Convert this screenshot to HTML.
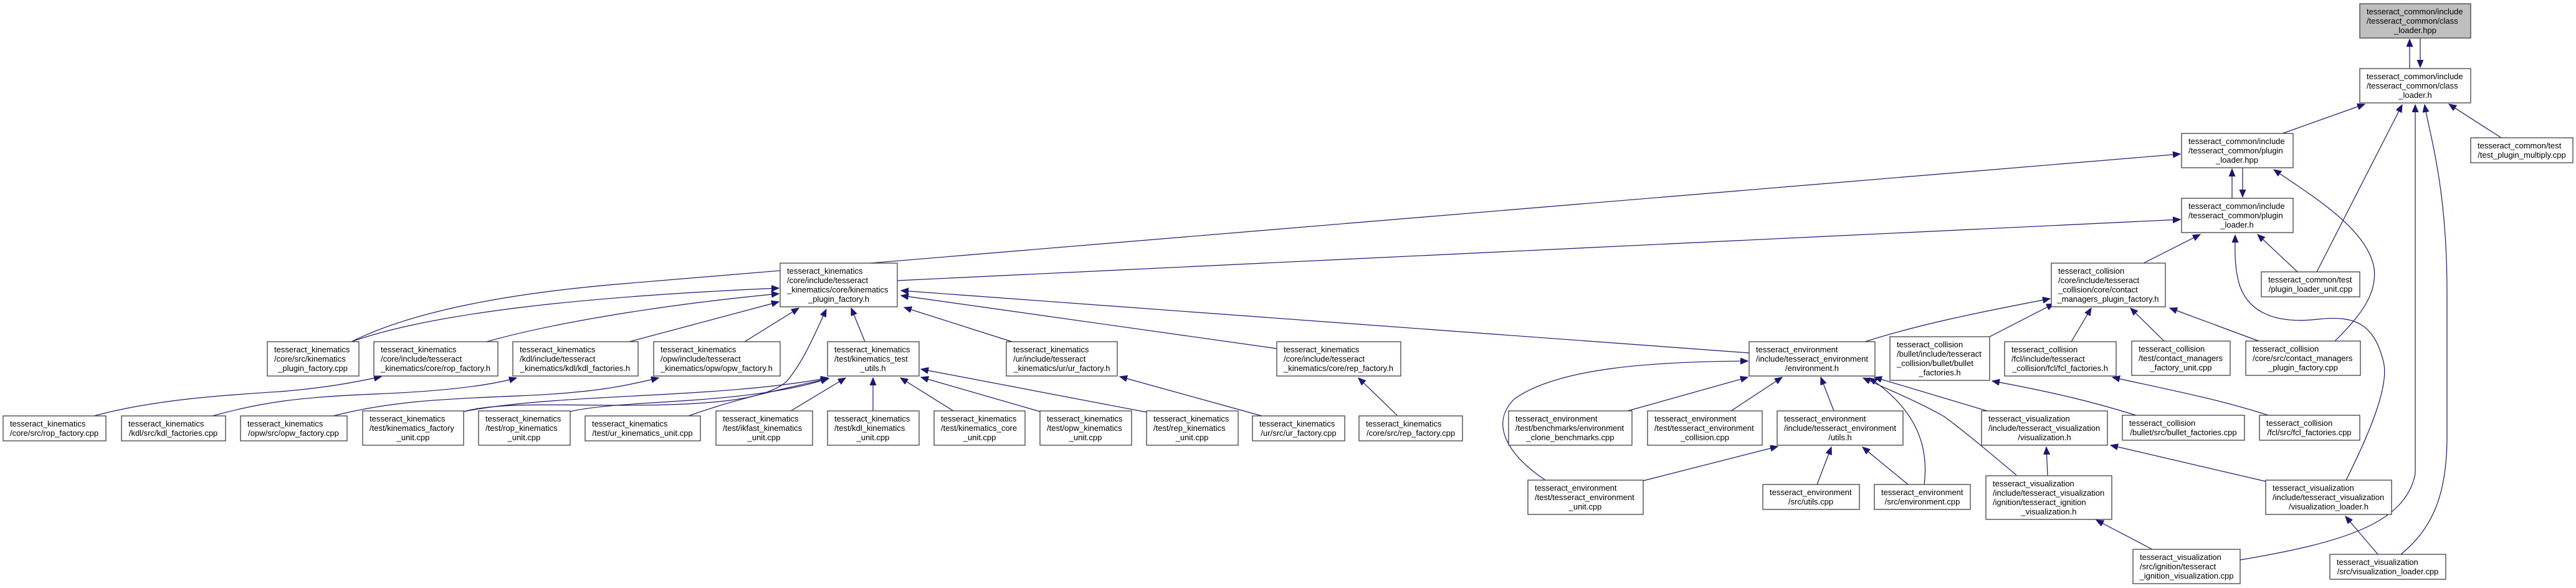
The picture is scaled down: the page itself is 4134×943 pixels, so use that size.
<!DOCTYPE html>
<html><head><meta charset="utf-8"><style>
html,body{margin:0;padding:0;background:#fff;}
svg{display:block;}
text{font-family:"Liberation Sans",Arial,sans-serif;font-size:13px;fill:#000;}
rect{fill:#fff;stroke:#404040;stroke-width:1.3;}
rect.g{fill:#bfbfbf;}
path{fill:none;stroke:#191970;stroke-width:1.2;}
</style></head><body>
<svg width="4134" height="943" viewBox="0 0 4134 943" xmlns="http://www.w3.org/2000/svg">
<defs><marker id="a" markerUnits="userSpaceOnUse" markerWidth="14" markerHeight="12" refX="12" refY="5" orient="auto"><path d="M0,0 L12,5 L0,10 Z" style="fill:#191970;stroke:#191970;stroke-width:1"/></marker></defs>
<g marker-end="url(#a)">
<path d="M3867,110 L3867,63"/>
<path d="M3884,61 L3884,108"/>
<path d="M3663,214 L3795,167"/>
<path d="M3718,436 L3855,168"/>
<path d="M3595,898 C3760,870 3860,840 3876,760 L3876,168"/>
<path d="M3853,889 C3900,850 3927,800 3927,700 L3927,470 C3927,300 3900,220 3891,168"/>
<path d="M4014,221 L3930,167"/>
<path d="M3582,318 L3582,271"/>
<path d="M3599,269 L3599,316"/>
<path d="M564,548 Q700,480 1000,455 L3499,247"/>
<path d="M1440,450 L3499,352"/>
<path d="M3440,422 L3531,376"/>
<path d="M3687,436 L3623,376"/>
<path d="M3765,770 C3800,700 3835,620 3825,580 C3810,520 3780,505 3720,512 C3650,520 3610,500 3595,460 C3585,430 3587,400 3587,377"/>
<path d="M3747,547 C3790,505 3815,470 3810,430 C3800,370 3720,320 3649,272"/>
<path d="M3473,547 L3419,494"/>
<path d="M3324,548 L3356,494"/>
<path d="M3625,547 L3482,494"/>
<path d="M3193,540 L3296,487"/>
<path d="M2993,548 C3080,520 3180,500 3290,479"/>
<path d="M3428,666 C3360,645 3300,630 3197,611"/>
<path d="M3640,666 C3560,640 3480,625 3390,605"/>
<path d="M2807,566 L1446,466"/>
<path d="M2049,559 L1446,474"/>
<path d="M1624,548 L1451,493"/>
<path d="M1388,548 L1366,494"/>
<path d="M1195,548 L1282,494"/>
<path d="M1010,548 L1250,484"/>
<path d="M781,548 C880,520 1050,490 1250,471"/>
<path d="M564,548 C700,500 950,475 1250,462"/>
<path d="M744,660 C800,645 900,650 1000,650 C1150,650 1230,640 1262,612 C1290,580 1310,530 1326,496"/>
<path d="M744,660 C900,630 1150,640 1329,606"/>
<path d="M915,660 C1000,640 1200,650 1329,607"/>
<path d="M1105,667 C1180,640 1250,625 1330,607"/>
<path d="M1269,659 L1357,606"/>
<path d="M1401,659 L1401,606"/>
<path d="M1530,659 L1445,606"/>
<path d="M1669,660 L1478,605"/>
<path d="M1840,661 L1478,592"/>
<path d="M2025,667 L1797,604"/>
<path d="M2242,666 L2180,606"/>
<path d="M151,667 C250,640 371,633 450,628 C520,622 560,615 612,604"/>
<path d="M341,667 C420,645 480,637 600,632 C700,628 780,620 829,606"/>
<path d="M535,667 C620,645 700,640 830,635 C950,630 1000,620 1057,606"/>
<path d="M2612,659 L2805,605"/>
<path d="M2778,659 L2860,605"/>
<path d="M2943,659 L2922,605"/>
<path d="M2480,770 C2420,730 2390,680 2430,640 C2500,590 2650,580 2805,579"/>
<path d="M2637,771 L2853,716"/>
<path d="M2916,777 L2939,717"/>
<path d="M3062,777 L2989,717"/>
<path d="M3088,777 C3095,720 3080,660 3000,606"/>
<path d="M3189,659 L3008,605"/>
<path d="M3236,762 C3180,715 3150,690 3120,668 C3070,640 3030,625 2990,606"/>
<path d="M3286,762 L3284,717"/>
<path d="M3636,772 L3387,714"/>
<path d="M3454,881 L3364,834"/>
<path d="M3816,889 L3764,828"/>
</g>

<rect class="g" x="3787" y="6" width="178" height="55"/><text x="3798" y="23">tesseract_common/include</text><text x="3798" y="38">/tesseract_common/class</text><text x="3876" y="53" text-anchor="middle">_loader.hpp</text>
<rect x="3787" y="110" width="178" height="55"/><text x="3798" y="127">tesseract_common/include</text><text x="3798" y="142">/tesseract_common/class</text><text x="3876" y="157" text-anchor="middle">_loader.h</text>
<rect x="3501" y="214" width="179" height="55"/><text x="3512" y="231">tesseract_common/include</text><text x="3512" y="246">/tesseract_common/plugin</text><text x="3590" y="261" text-anchor="middle">_loader.hpp</text>
<rect x="3501" y="318" width="179" height="55"/><text x="3512" y="335">tesseract_common/include</text><text x="3512" y="350">/tesseract_common/plugin</text><text x="3590" y="365" text-anchor="middle">_loader.h</text>
<rect x="3965" y="221" width="164" height="40"/><text x="3976" y="238">tesseract_common/test</text><text x="4047" y="253" text-anchor="middle">/test_plugin_multiply.cpp</text>
<rect x="3292" y="422" width="183" height="70"/><text x="3303" y="439">tesseract_collision</text><text x="3303" y="454">/core/include/tesseract</text><text x="3303" y="469">_collision/core/contact</text><text x="3383" y="484" text-anchor="middle">_managers_plugin_factory.h</text>
<rect x="3629" y="436" width="158" height="40"/><text x="3640" y="453">tesseract_common/test</text><text x="3708" y="468" text-anchor="middle">/plugin_loader_unit.cpp</text>
<rect x="3217" y="548" width="179" height="55"/><text x="3228" y="565">tesseract_collision</text><text x="3228" y="580">/fcl/include/tesseract</text><text x="3306" y="595" text-anchor="middle">_collision/fcl/fcl_factories.h</text>
<rect x="3421" y="547" width="158" height="55"/><text x="3432" y="564">tesseract_collision</text><text x="3432" y="579">/test/contact_managers</text><text x="3500" y="594" text-anchor="middle">_factory_unit.cpp</text>
<rect x="3604" y="547" width="184" height="55"/><text x="3615" y="564">tesseract_collision</text><text x="3615" y="579">/core/src/contact_managers</text><text x="3696" y="594" text-anchor="middle">_plugin_factory.cpp</text>
<rect x="3406" y="666" width="196" height="40"/><text x="3417" y="683">tesseract_collision</text><text x="3504" y="698" text-anchor="middle">/bullet/src/bullet_factories.cpp</text>
<rect x="3626" y="666" width="161" height="40"/><text x="3637" y="683">tesseract_collision</text><text x="3706" y="698" text-anchor="middle">/fcl/src/fcl_factories.cpp</text>
<rect x="3180" y="659" width="202" height="55"/><text x="3191" y="676">tesseract_visualization</text><text x="3191" y="691">/include/tesseract_visualization</text><text x="3281" y="706" text-anchor="middle">/visualization.h</text>
<rect x="3187" y="763" width="202" height="70"/><text x="3198" y="780">tesseract_visualization</text><text x="3198" y="795">/include/tesseract_visualization</text><text x="3198" y="810">/ignition/tesseract_ignition</text><text x="3288" y="825" text-anchor="middle">_visualization.h</text>
<rect x="3636" y="770" width="202" height="55"/><text x="3647" y="787">tesseract_visualization</text><text x="3647" y="802">/include/tesseract_visualization</text><text x="3737" y="817" text-anchor="middle">/visualization_loader.h</text>
<rect x="3423" y="881" width="172" height="55"/><text x="3434" y="898">tesseract_visualization</text><text x="3434" y="913">/src/ignition/tesseract</text><text x="3509" y="928" text-anchor="middle">_ignition_visualization.cpp</text>
<rect x="3739" y="889" width="186" height="40"/><text x="3750" y="906">tesseract_visualization</text><text x="3832" y="921" text-anchor="middle">/src/visualization_loader.cpp</text>
<rect x="2807" y="548" width="202" height="55"/><text x="2818" y="565">tesseract_environment</text><text x="2818" y="580">/include/tesseract_environment</text><text x="2908" y="595" text-anchor="middle">/environment.h</text>
<rect x="3033" y="540" width="160" height="70"/><text x="3044" y="557">tesseract_collision</text><text x="3044" y="572">/bullet/include/tesseract</text><text x="3044" y="587">_collision/bullet/bullet</text><text x="3113" y="602" text-anchor="middle">_factories.h</text>
<rect x="2421" y="659" width="198" height="55"/><text x="2432" y="676">tesseract_environment</text><text x="2432" y="691">/test/benchmarks/environment</text><text x="2520" y="706" text-anchor="middle">_clone_benchmarks.cpp</text>
<rect x="2644" y="659" width="184" height="55"/><text x="2655" y="676">tesseract_environment</text><text x="2655" y="691">/test/tesseract_environment</text><text x="2736" y="706" text-anchor="middle">_collision.cpp</text>
<rect x="2852" y="659" width="202" height="55"/><text x="2863" y="676">tesseract_environment</text><text x="2863" y="691">/include/tesseract_environment</text><text x="2953" y="706" text-anchor="middle">/utils.h</text>
<rect x="2452" y="770" width="185" height="55"/><text x="2463" y="787">tesseract_environment</text><text x="2463" y="802">/test/tesseract_environment</text><text x="2544" y="817" text-anchor="middle">_unit.cpp</text>
<rect x="2829" y="777" width="155" height="40"/><text x="2840" y="794">tesseract_environment</text><text x="2906" y="809" text-anchor="middle">/src/utils.cpp</text>
<rect x="3008" y="777" width="154" height="40"/><text x="3019" y="794">tesseract_environment</text><text x="3085" y="809" text-anchor="middle">/src/environment.cpp</text>
<rect x="1615" y="548" width="178" height="55"/><text x="1626" y="565">tesseract_kinematics</text><text x="1626" y="580">/ur/include/tesseract</text><text x="1704" y="595" text-anchor="middle">_kinematics/ur/ur_factory.h</text>
<rect x="2049" y="548" width="199" height="55"/><text x="2060" y="565">tesseract_kinematics</text><text x="2060" y="580">/core/include/tesseract</text><text x="2148" y="595" text-anchor="middle">_kinematics/core/rep_factory.h</text>
<rect x="1669" y="659" width="147" height="55"/><text x="1680" y="676">tesseract_kinematics</text><text x="1680" y="691">/test/opw_kinematics</text><text x="1742" y="706" text-anchor="middle">_unit.cpp</text>
<rect x="1840" y="659" width="147" height="55"/><text x="1851" y="676">tesseract_kinematics</text><text x="1851" y="691">/test/rep_kinematics</text><text x="1913" y="706" text-anchor="middle">_unit.cpp</text>
<rect x="2010" y="667" width="148" height="40"/><text x="2021" y="684">tesseract_kinematics</text><text x="2084" y="699" text-anchor="middle">/ur/src/ur_factory.cpp</text>
<rect x="2181" y="667" width="166" height="40"/><text x="2192" y="684">tesseract_kinematics</text><text x="2264" y="699" text-anchor="middle">/core/src/rep_factory.cpp</text>
<rect x="1252" y="422" width="188" height="70"/><text x="1263" y="439">tesseract_kinematics</text><text x="1263" y="454">/core/include/tesseract</text><text x="1263" y="469">_kinematics/core/kinematics</text><text x="1346" y="484" text-anchor="middle">_plugin_factory.h</text>
<rect x="823" y="548" width="201" height="55"/><text x="834" y="565">tesseract_kinematics</text><text x="834" y="580">/kdl/include/tesseract</text><text x="923" y="595" text-anchor="middle">_kinematics/kdl/kdl_factories.h</text>
<rect x="1049" y="548" width="203" height="55"/><text x="1060" y="565">tesseract_kinematics</text><text x="1060" y="580">/opw/include/tesseract</text><text x="1150" y="595" text-anchor="middle">_kinematics/opw/opw_factory.h</text>
<rect x="1328" y="548" width="147" height="55"/><text x="1339" y="565">tesseract_kinematics</text><text x="1339" y="580">/test/kinematics_test</text><text x="1401" y="595" text-anchor="middle">_utils.h</text>
<rect x="939" y="667" width="185" height="40"/><text x="950" y="684">tesseract_kinematics</text><text x="1031" y="699" text-anchor="middle">/test/ur_kinematics_unit.cpp</text>
<rect x="1149" y="659" width="155" height="55"/><text x="1160" y="676">tesseract_kinematics</text><text x="1160" y="691">/test/ikfast_kinematics</text><text x="1226" y="706" text-anchor="middle">_unit.cpp</text>
<rect x="1328" y="659" width="147" height="55"/><text x="1339" y="676">tesseract_kinematics</text><text x="1339" y="691">/test/kdl_kinematics</text><text x="1401" y="706" text-anchor="middle">_unit.cpp</text>
<rect x="1499" y="659" width="146" height="55"/><text x="1510" y="676">tesseract_kinematics</text><text x="1510" y="691">/test/kinematics_core</text><text x="1572" y="706" text-anchor="middle">_unit.cpp</text>
<rect x="429" y="548" width="147" height="55"/><text x="440" y="565">tesseract_kinematics</text><text x="440" y="580">/core/src/kinematics</text><text x="502" y="595" text-anchor="middle">_plugin_factory.cpp</text>
<rect x="600" y="548" width="199" height="55"/><text x="611" y="565">tesseract_kinematics</text><text x="611" y="580">/core/include/tesseract</text><text x="699" y="595" text-anchor="middle">_kinematics/core/rop_factory.h</text>
<rect x="5" y="667" width="165" height="40"/><text x="16" y="684">tesseract_kinematics</text><text x="87" y="699" text-anchor="middle">/core/src/rop_factory.cpp</text>
<rect x="195" y="667" width="167" height="40"/><text x="206" y="684">tesseract_kinematics</text><text x="278" y="699" text-anchor="middle">/kdl/src/kdl_factories.cpp</text>
<rect x="386" y="667" width="171" height="40"/><text x="397" y="684">tesseract_kinematics</text><text x="471" y="699" text-anchor="middle">/opw/src/opw_factory.cpp</text>
<rect x="582" y="659" width="162" height="55"/><text x="593" y="676">tesseract_kinematics</text><text x="593" y="691">/test/kinematics_factory</text><text x="663" y="706" text-anchor="middle">_unit.cpp</text>
<rect x="768" y="659" width="147" height="55"/><text x="779" y="676">tesseract_kinematics</text><text x="779" y="691">/test/rop_kinematics</text><text x="841" y="706" text-anchor="middle">_unit.cpp</text>
</svg>
</body></html>
